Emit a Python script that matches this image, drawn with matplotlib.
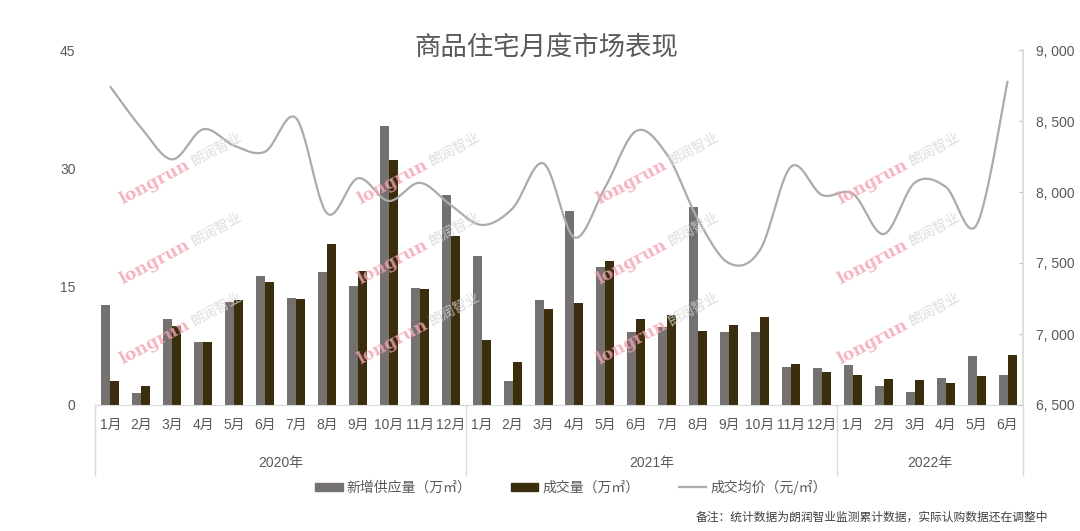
import matplotlib
matplotlib.use("Agg")
import matplotlib.pyplot as plt
import numpy as np
from matplotlib.patches import Patch
from matplotlib.lines import Line2D
from matplotlib.transforms import blended_transform_factory

plt.rcParams['font.family'] = ['Liberation Sans', 'Noto Sans CJK SC', 'DejaVu Sans']

months = ["1月", "2月", "3月", "4月", "5月", "6月", "7月", "8月", "9月", "10月", "11月", "12月",
          "1月", "2月", "3月", "4月", "5月", "6月", "7月", "8月", "9月", "10月", "11月", "12月",
          "1月", "2月", "3月", "4月", "5月", "6月"]
years = ["2020年", "2021年", "2022年"]
year_counts = [12, 12, 6]

supply = [12.7, 1.5, 10.9, 8.0, 13.0, 16.4, 13.6, 16.8, 15.1, 35.4, 14.8, 26.6,
          18.9, 3.0, 13.3, 24.6, 17.5, 9.2, 9.9, 25.1, 9.3, 9.3, 4.8, 4.7,
          5.1, 2.45, 1.7, 3.45, 6.2, 3.8]
deals = [3.0, 2.4, 10.0, 8.0, 13.3, 15.6, 13.5, 20.4, 17.0, 31.0, 14.7, 21.4,
         8.3, 5.4, 12.2, 12.9, 18.2, 10.9, 11.4, 9.4, 10.2, 11.2, 5.2, 4.2,
         3.76, 3.3, 3.2, 2.8, 3.7, 6.3]
price = [8740, 8450, 8230, 8442, 8326, 8284, 8520, 7850, 8097, 7937, 8065, 7908,
         7768, 7885, 8201, 7680, 8037, 8430, 8260, 7803, 7498, 7592, 8178, 7979,
         7988, 7704, 8065, 8037, 7768, 8777]

left_ticks = [0, 15, 30, 45]
right_ticks = [6500, 7000, 7500, 8000, 8500, 9000]

c_supply = "#767171"
c_deal = "#3A2E0C"
c_price = "#ABABAB"
c_text = "#595959"

W, H = 1080, 531
fig = plt.figure(figsize=(W / 100, H / 100), dpi=100)
x0, x1, yb, yt = 95, 1023, 405, 50
ax = fig.add_axes([x0 / W, (H - yb) / H, (x1 - x0) / W, (yb - yt) / H])
ax2 = ax.twinx()

n = len(months)
x = np.arange(n)
bw = 0.29
ax.bar(x - bw / 2, supply, width=bw, color=c_supply, zorder=2)
ax.bar(x + bw / 2, deals, width=bw, color=c_deal, zorder=2)
ax.set_xlim(-0.5, n - 0.5)
ax.set_ylim(0, 45)
ax.set_yticks(left_ticks)
ax.set_yticklabels([str(v) for v in left_ticks])
ax.tick_params(axis='y', length=0, pad=14, labelsize=10, labelcolor=c_text)
ax.set_xticks([])
for s in ['left', 'top', 'right']:
    ax.spines[s].set_visible(False)
ax.spines['bottom'].set_color("#D9D9D9")

# smoothed line (Bezier smoothing through the monthly points)
P = np.column_stack([x, price]).astype(float)
curve = []
for i in range(n - 1):
    p0 = P[i - 1] if i > 0 else P[i]
    p1 = P[i]
    p2 = P[i + 1]
    p3 = P[i + 2] if i + 2 < n else P[i + 1]
    c1 = p1 + (p2 - p0) / 6
    c2 = p2 - (p3 - p1) / 6
    t = np.linspace(0, 1, 30)[:, None]
    seg = (1 - t) ** 3 * p1 + 3 * (1 - t) ** 2 * t * c1 + 3 * (1 - t) * t ** 2 * c2 + t ** 3 * p2
    curve.append(seg if i == 0 else seg[1:])
curve = np.vstack(curve)
ax2.plot(curve[:, 0], curve[:, 1], color=c_price, lw=1.6, zorder=3, solid_capstyle='round')
ax2.set_ylim(6500, 9000)
ax2.set_yticks(right_ticks)
ax2.set_yticklabels([f"{v:,}".replace(",", ", ") for v in right_ticks])
ax2.tick_params(axis='y', direction='in', length=3, color="#BFBFBF", pad=9, labelsize=10, labelcolor=c_text)
for s in ['left', 'top', 'bottom']:
    ax2.spines[s].set_visible(False)
ax2.spines['right'].set_color("#D9D9D9")
ax2.spines['right'].set_linewidth(1.2)

# multi-level category axis
tr = blended_transform_factory(ax.transData, ax.transAxes)
ph = yb - yt
for i in range(n):
    ax.text(x[i], -20 / ph, months[i], transform=tr, ha='center', va='center',
            fontsize=10, color=c_text, clip_on=False)
start = -0.5
bounds = [start]
for yr, cnt in zip(years, year_counts):
    end = start + cnt
    ax.text((start + end) / 2, -58 / ph, yr, transform=tr, ha='center', va='center',
            fontsize=10, color=c_text, clip_on=False)
    bounds.append(end)
    start = end
for b in bounds:
    ax.plot([b, b], [0, -70 / ph], transform=tr, color="#D9D9D9", lw=1, clip_on=False)

# title
fig.text(546 / W, 1 - 47 / H, "商品住宅月度市场表现", ha='center', va='center',
         fontsize=19, color=c_text, family=['Noto Sans CJK SC'], weight='medium')

# legend
handles = [Patch(color=c_supply), Patch(color=c_deal), Line2D([0], [0], color=c_price, lw=1.6)]
labels = ["新增供应量（万㎡）", "成交量（万㎡）", "成交均价（元/㎡）"]
leg = fig.legend(handles, labels, loc='center', bbox_to_anchor=(571 / W, 1 - 487 / H), ncol=3,
                 frameon=False, handlelength=2.0, handleheight=0.5,
                 columnspacing=2.8, handletextpad=0.3, prop={'family': ['Noto Sans CJK SC'], 'size': 10})
for t in leg.get_texts():
    t.set_color(c_text)

# note
fig.text(1048 / W, 1 - 517 / H, "备注：统计数据为朗润智业监测累计数据，实际认购数据还在调整中",
         ha='right', va='center', fontsize=8.5, color="#404040", family=['Noto Sans CJK SC'])

# watermarks
wm_x = [189, 427, 666, 907]
wm_y = [164, 244, 324]
ang = 28
for jx in wm_x:
    for jy in wm_y:
        fig.text(jx / W, 1 - jy / H, "longrun", ha='right', va='center', rotation=ang,
                 rotation_mode='anchor', fontsize=12.5, color="#F5A3B3", alpha=0.8,
                 family=['DejaVu Serif'], weight='bold', zorder=10)
        fig.text((jx + 3) / W, 1 - (jy - 2) / H, "朗润智业", ha='left', va='center',
                 rotation=ang, rotation_mode='anchor', fontsize=10, color="#D4D4D4",
                 alpha=0.8, family=['Noto Sans CJK SC'], zorder=10)

fig.savefig("out.png", dpi=100)
